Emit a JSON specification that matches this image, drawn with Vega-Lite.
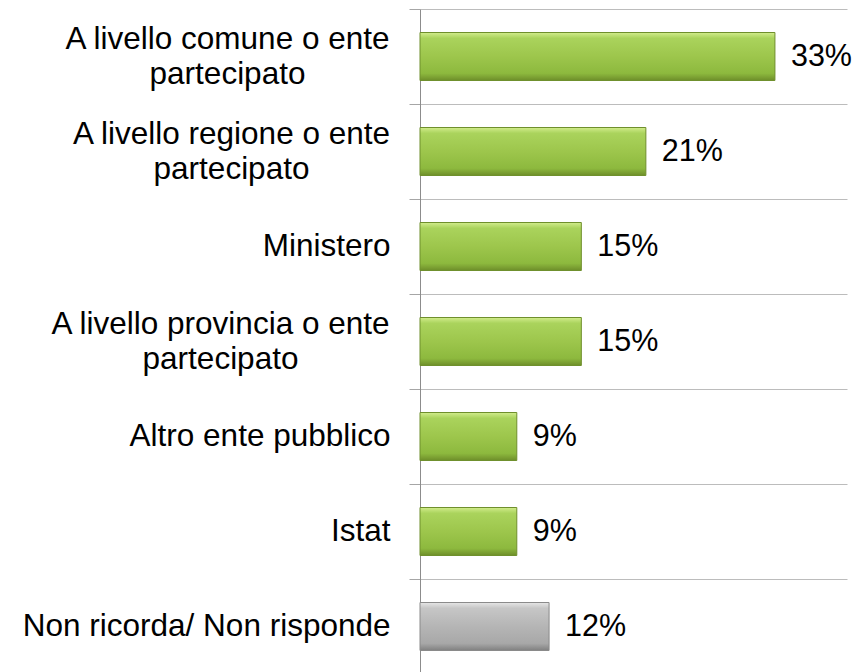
{
  "$schema": "https://vega.github.io/schema/vega-lite/v6.json",
  "autosize": "none",
  "padding": {"left": 420, "top": 9, "right": 19, "bottom": 0},
  "width": 427,
  "height": 665,
  "background": "white",
  "config": {"view": {"stroke": null}},
  "data": {
    "values": [
      {"cat": "A livello comune o ente|partecipato", "v": 0.33, "grp": "g"},
      {"cat": "A livello regione o ente|partecipato", "v": 0.21, "grp": "g"},
      {"cat": "Ministero", "v": 0.15, "grp": "g"},
      {"cat": "A livello provincia o ente|partecipato", "v": 0.15, "grp": "g"},
      {"cat": "Altro ente pubblico", "v": 0.09, "grp": "g"},
      {"cat": "Istat", "v": 0.09, "grp": "g"},
      {"cat": "Non ricorda/ Non risponde", "v": 0.12, "grp": "n"}
    ]
  },
  "encoding": {
    "y": {
      "field": "cat",
      "type": "nominal",
      "sort": null,
      "scale": {"paddingInner": 0, "paddingOuter": 0},
      "axis": {
        "title": null,
        "labelExpr": "isValid(datum.value) ? split(datum.value, '|') : ''",
        "labelFont": "Liberation Sans",
        "labelFontSize": 31.5,
        "labelLineHeight": 35,
        "labelColor": "#000000",
        "labelBaseline": "middle",
        "labelLimit": 0,
        "labelAlign": {"condition": {"test": "isValid(datum.value) && indexof(datum.value, '|') >= 0", "value": "center"}, "value": "right"},
        "labelOffset": {"condition": {"test": "isValid(datum.value) && indexof(datum.value, '|') >= 0", "value": -17}, "value": 0},
        "labelPadding": {"condition": [
          {"test": "datum.value == 'A livello comune o ente|partecipato'", "value": 182},
          {"test": "datum.value == 'A livello regione o ente|partecipato'", "value": 178},
          {"test": "datum.value == 'A livello provincia o ente|partecipato'", "value": 189}
        ], "value": 19},
        "tickBand": "extent",
        "tickSize": 11,
        "tickColor": "#a6a6a6",
        "tickWidth": 1,
        "domain": true,
        "domainColor": "#8c8c8c",
        "domainWidth": 1,
        "grid": true,
        "gridColor": "#bcbcbc",
        "gridWidth": 1
      }
    },
    "x": {"field": "v", "type": "quantitative", "scale": {"domain": [0, 0.397], "nice": false}, "axis": null}
  },
  "layer": [
    {
      "transform": [{"filter": "datum.grp == 'g'"}],
      "mark": {"type": "bar", "height": {"band": 0.505}, "strokeWidth": 1, "stroke": "#6f8f2c",
        "fill": {"gradient": "linear", "x1": 0, "y1": 0, "x2": 0, "y2": 1, "stops": [
            {"offset": 0, "color": "#d2ec8c"},
            {"offset": 0.12, "color": "#aad35c"},
            {"offset": 0.5, "color": "#9dc64c"},
            {"offset": 0.85, "color": "#8db93e"},
            {"offset": 1, "color": "#6e8e2a"}
          ]}}
    },
    {
      "transform": [{"filter": "datum.grp == 'n'"}],
      "mark": {"type": "bar", "height": {"band": 0.505}, "strokeWidth": 1, "stroke": "#8a8a8a",
        "fill": {"gradient": "linear", "x1": 0, "y1": 0, "x2": 0, "y2": 1, "stops": [
              {"offset": 0, "color": "#e6e6e6"},
              {"offset": 0.12, "color": "#c6c6c6"},
              {"offset": 0.5, "color": "#b5b5b5"},
              {"offset": 0.85, "color": "#a8a8a8"},
              {"offset": 1, "color": "#808080"}
            ]}}
    },
    {
      "mark": {"type": "text", "align": "left", "baseline": "middle", "dx": 16, "font": "Liberation Sans", "fontSize": 30.5, "color": "#000000", "clip": false},
      "encoding": {
        "text": {"field": "v", "type": "quantitative", "format": ".0%"}
      }
    }
  ]
}
